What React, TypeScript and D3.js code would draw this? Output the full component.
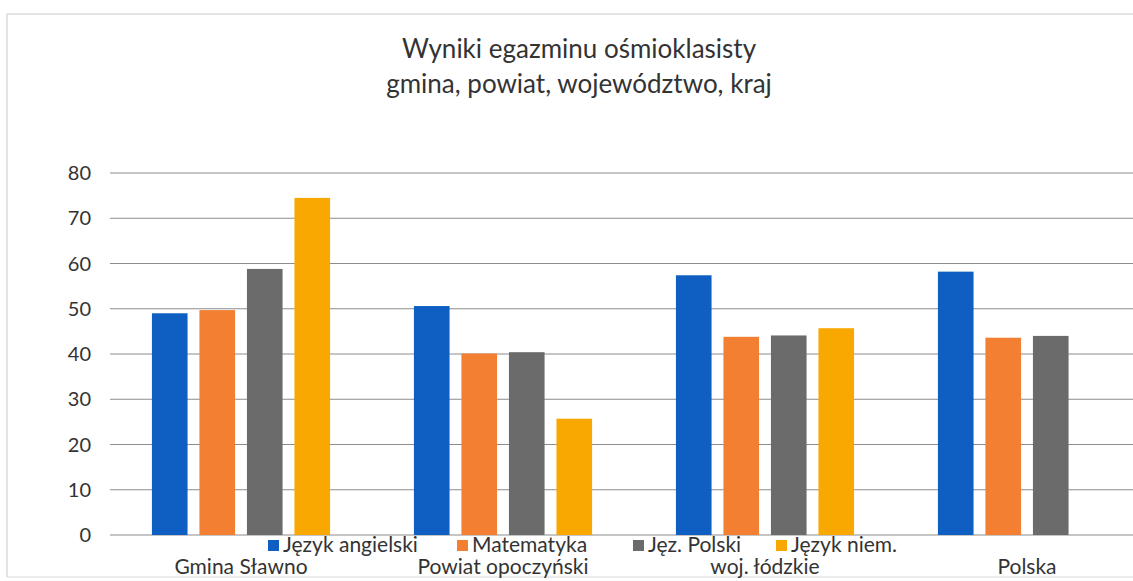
import React, { useEffect, useRef } from "react";
import * as d3 from "d3";

const categories = ["Gmina Sławno", "Powiat opoczyński", "woj. łódzkie", "Polska"];
const seriesNames = ["Język angielski", "Matematyka", "Jęz. Polski", "Język niem."];
const angielski = [49.0, 50.6, 57.4, 58.2];
const matematyka = [49.7, 40.1, 43.8, 43.6];
const polski = [58.8, 40.4, 44.1, 44.0];
const niemiecki = [74.5, 25.7, 45.7, null];
const yTicks = [0, 10, 20, 30, 40, 50, 60, 70, 80];
const colors = ["#0f5fc2", "#f27f32", "#6b6b6b", "#f8a800"];

const App = () => {
  const ref = useRef(null);
  const W = 1133;
  const H = 581;
  const margin = { top: 173, left: 110, bottom: 46 };
  const plotW = 1048;

  useEffect(() => {
    const svg = d3.select(ref.current);
    svg.selectAll("*").remove();
    const font = "Lato, 'Open Sans', sans-serif";
    const height = H - margin.top - margin.bottom;

    // frame
    svg
      .append("path")
      .attr("d", `M7,${H - 4} L7,14 L${W},14`)
      .attr("fill", "none")
      .attr("stroke", "#c8c8c8")
      .attr("stroke-width", 1);
    svg
      .append("line")
      .attr("x1", 7)
      .attr("x2", W)
      .attr("y1", H - 4)
      .attr("y2", H - 4)
      .attr("stroke", "#d8d8d8");

    // title
    const title = svg
      .append("text")
      .attr("text-anchor", "middle")
      .attr("font-family", font)
      .attr("font-size", 26)
      .attr("fill", "#333");
    title.append("tspan").attr("x", 579).attr("y", 58).text("Wyniki egazminu ośmioklasisty");
    title.append("tspan").attr("x", 579).attr("y", 93).text("gmina, powiat, województwo, kraj");

    const x = d3
      .scaleBand()
      .domain(categories)
      .range([0, plotW])
      .paddingInner(0.32)
      .paddingOuter(0.16);
    const x1 = d3
      .scaleBand()
      .domain(seriesNames)
      .range([0, x.bandwidth()])
      .paddingInner(0.25);
    const y = d3.scaleLinear().domain([0, 80]).range([height, 0]);

    const g = svg.append("g").attr("transform", `translate(${margin.left},${margin.top})`);

    // Grid
    g.append("g")
      .selectAll("line")
      .data(yTicks)
      .join("line")
      .attr("x1", 0)
      .attr("x2", W)
      .attr("y1", (d) => y(d))
      .attr("y2", (d) => y(d))
      .attr("stroke", "#8c8c8c")
      .attr("stroke-width", 1);

    // Y labels
    g.append("g")
      .selectAll("text")
      .data(yTicks)
      .join("text")
      .attr("x", -19)
      .attr("y", (d) => y(d))
      .attr("dy", "0.35em")
      .attr("text-anchor", "end")
      .attr("font-family", font)
      .attr("font-size", 20)
      .attr("fill", "#333")
      .text((d) => d);

    // Bars
    const series = [angielski, matematyka, polski, niemiecki];
    series.forEach((vals, si) => {
      g.append("g")
        .selectAll("rect")
        .data(vals.map((v, i) => ({ v, c: categories[i] })).filter((d) => d.v != null))
        .join("rect")
        .attr("x", (d) => x(d.c) + x1(seriesNames[si]))
        .attr("y", (d) => y(d.v))
        .attr("width", x1.bandwidth())
        .attr("height", (d) => height - y(d.v))
        .attr("fill", colors[si]);
    });

    // Category labels
    g.append("g")
      .selectAll("text")
      .data(categories)
      .join("text")
      .attr("x", (d) => x(d) + x.bandwidth() / 2)
      .attr("y", height + 39)
      .attr("text-anchor", "middle")
      .attr("font-family", font)
      .attr("font-size", 21)
      .attr("fill", "#333")
      .text((d) => d);

    // Legend
    const legendX = [268, 457, 633, 776];
    const lg = svg.append("g");
    seriesNames.forEach((name, i) => {
      lg.append("rect")
        .attr("x", legendX[i])
        .attr("y", 540)
        .attr("width", 11)
        .attr("height", 11)
        .attr("fill", colors[i]);
      lg.append("text")
        .attr("x", legendX[i] + 15)
        .attr("y", 552)
        .attr("font-family", font)
        .attr("font-size", 21)
        .attr("fill", "#333")
        .text(name);
    });
  }, []);

  return (
    <svg
      ref={ref}
      width={W}
      height={H}
      style={{ position: "absolute", left: 0, top: 0, background: "#fff" }}
    ></svg>
  );
};

export default App;
